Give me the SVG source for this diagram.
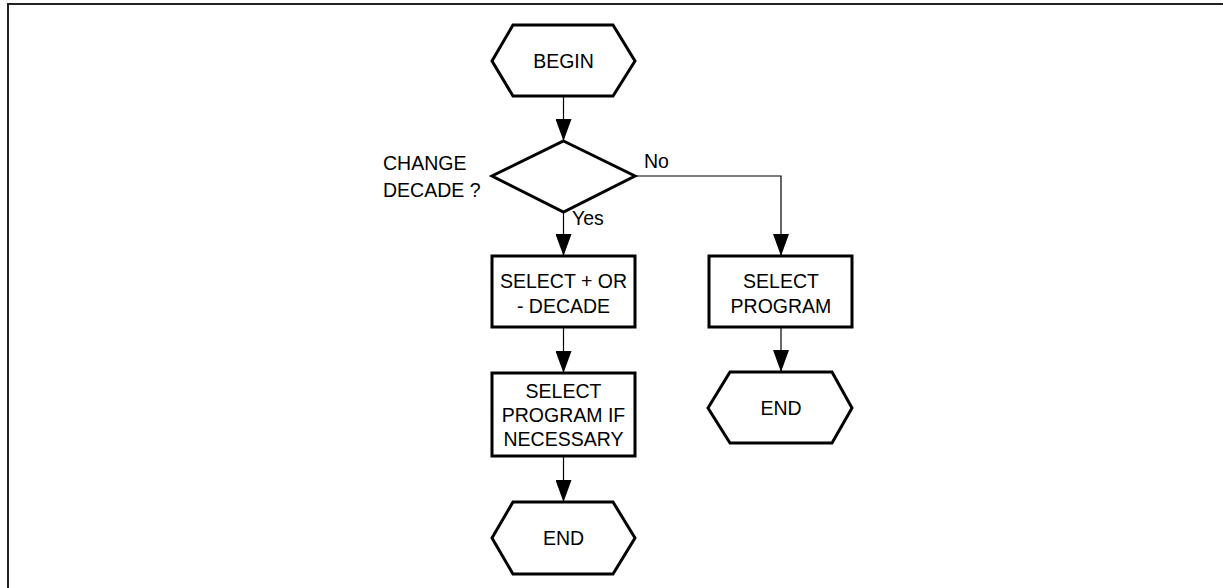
<svg xmlns="http://www.w3.org/2000/svg" width="1223" height="588" viewBox="0 0 1223 588">
<style>
.shape{fill:#fff;stroke:#000;stroke-width:3;stroke-linejoin:miter}
.conn{fill:none;stroke:#000;stroke-width:1.2}
text{font-family:"Liberation Sans",Arial,sans-serif;font-size:19.5px;fill:#000}
.c{text-anchor:middle}
</style>
<defs>
<marker id="arr" viewBox="0 0 16 22" refX="16" refY="8" markerWidth="22" markerHeight="16" markerUnits="userSpaceOnUse" orient="auto">
<path d="M0,0 L22,8 L0,16 Z" fill="#000"/>
</marker>
<marker id="ah" viewBox="0 0 22 16" refX="22" refY="8" markerWidth="22" markerHeight="16" markerUnits="userSpaceOnUse" orient="auto">
<path d="M0,0 L22,8 L0,16 Z" fill="#000"/>
</marker>
</defs>
<rect width="1223" height="588" fill="#fff"/>
<path d="M8,590 V4 H1225" fill="none" stroke="#222" stroke-width="2"/>
<g id="connectors">
<line class="conn" x1="563.5" y1="96" x2="563.5" y2="141" marker-end="url(#ah)"/>
<line class="conn" x1="563.5" y1="212" x2="563.5" y2="256" marker-end="url(#ah)"/>
<polyline class="conn" points="635,176 781,176 781,256" marker-end="url(#ah)"/>
<line class="conn" x1="563.5" y1="327" x2="563.5" y2="373" marker-end="url(#ah)"/>
<line class="conn" x1="563.5" y1="456" x2="563.5" y2="502" marker-end="url(#ah)"/>
<line class="conn" x1="781" y1="327" x2="781" y2="372" marker-end="url(#ah)"/>
<text x="644" y="168">No</text>
<text x="572" y="225">Yes</text>
</g>
<g id="begin">
<polygon class="shape" points="513,25 613,25 635,61 613,96 513,96 492,61"/>
<text class="c" x="563.5" y="68">BEGIN</text>
</g>
<g id="decision">
<polygon class="shape" points="563.5,141 635,176 563.5,212 492,176"/>
<text x="383" y="170">CHANGE</text>
<text x="383" y="197">DECADE ?</text>
</g>
<g id="select-decade">
<rect class="shape" x="492" y="256" width="143" height="71"/>
<text class="c" x="563.5" y="288">SELECT + OR</text>
<text class="c" x="563.5" y="313">- DECADE</text>
</g>
<g id="select-program-if">
<rect class="shape" x="492" y="373" width="143" height="83"/>
<text class="c" x="563.5" y="398">SELECT</text>
<text class="c" x="563.5" y="422">PROGRAM IF</text>
<text class="c" x="563.5" y="446">NECESSARY</text>
</g>
<g id="end-left">
<polygon class="shape" points="513,502 613,502 635,538 613,574 513,574 492,538"/>
<text class="c" x="563.5" y="545">END</text>
</g>
<g id="select-program">
<rect class="shape" x="709" y="256" width="143" height="71"/>
<text class="c" x="781" y="288">SELECT</text>
<text class="c" x="781" y="313">PROGRAM</text>
</g>
<g id="end-right">
<polygon class="shape" points="730,372 832,372 852,408 832,443 730,443 708,408"/>
<text class="c" x="781" y="415">END</text>
</g>
</svg>
